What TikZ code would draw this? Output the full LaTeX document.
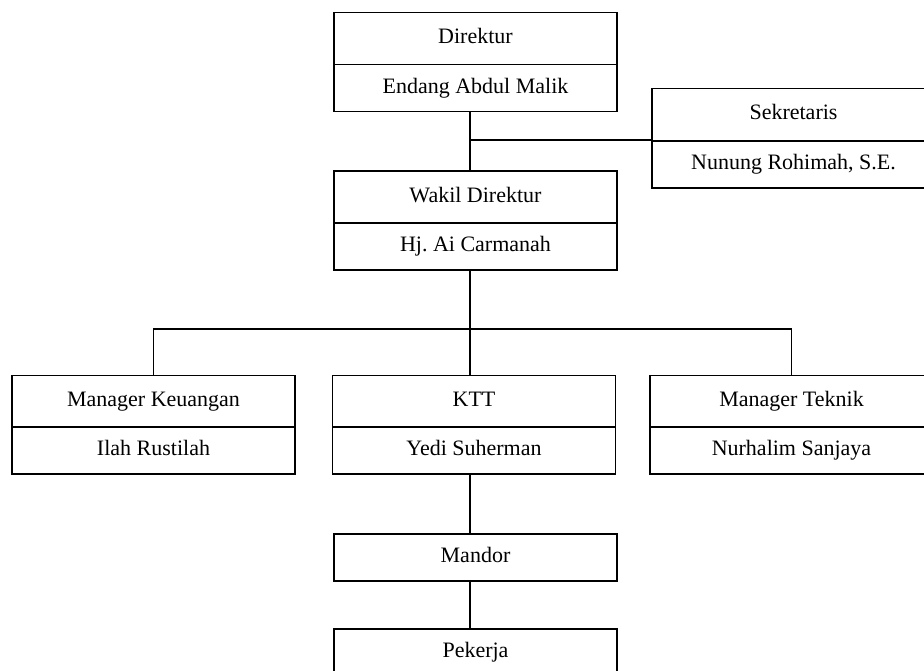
\documentclass[tikz,border=0pt]{standalone}
\usepackage{fontspec}
\setmainfont{Liberation Serif}

\begin{document}
\begin{tikzpicture}[x=0.5pt,y=-0.5pt,line width=0.8pt,
  judul/.style={draw,minimum width=141.5pt,minimum height=26pt,inner sep=0pt,text height=7.6pt,text depth=2.4pt,font=\fontsize{11}{13}\selectfont},
  nama/.style={draw,minimum width=141.5pt,minimum height=23.5pt,inner sep=0pt,text height=7.6pt,text depth=2.4pt,font=\fontsize{11}{13}\selectfont}]
        \clip (0,0) rectangle (924,670);

        \node[judul] (dir) at (475.5,38.5) {Direktur};
        \node[nama] (dirnama) at (475.5,88) {Endang Abdul Malik};

        \node[judul] (sek) at (793.5,114.5) {Sekretaris};
        \node[nama] (seknama) at (793.5,164.5) {Nunung Rohimah, S.E.};

        \node[judul] (wakil) at (475.5,197) {Wakil Direktur};
        \node[nama] (wakilnama) at (475.5,246.5) {Hj.\ Ai Carmanah};

        \node[judul] (mk) at (153.5,401.5) {Manager Keuangan};
        \node[nama] (mknama) at (153.5,450.5) {Ilah Rustilah};
        \node[judul] (ktt) at (474,401.5) {KTT};
        \node[nama] (kttnama) at (474,450.5) {Yedi Suherman};
        \node[judul] (mt) at (791.5,401.5) {Manager Teknik};
        \node[nama] (mtnama) at (791.5,450.5) {Nurhalim Sanjaya};

        \node[nama] (mandor) at (475.5,557.5) {Mandor};
        \node[nama] (pekerja) at (475.5,652.5) {Pekerja};

        % garis penghubung, semua pada x=470
        \coordinate (cabang) at (470,329);

        \draw (dirnama.south -| cabang) -- (wakil.north -| cabang);
        \draw (cabang |- seknama.north west) -- (seknama.north west);
        \draw (wakilnama.south -| cabang) -- (ktt.north -| cabang);
        \draw (mk.north) |- (cabang) -| (mt.north);
        \draw (kttnama.south -| cabang) -- (mandor.north -| cabang);
        \draw (mandor.south -| cabang) -- (pekerja.north -| cabang);
      \end{tikzpicture}
\end{document}
